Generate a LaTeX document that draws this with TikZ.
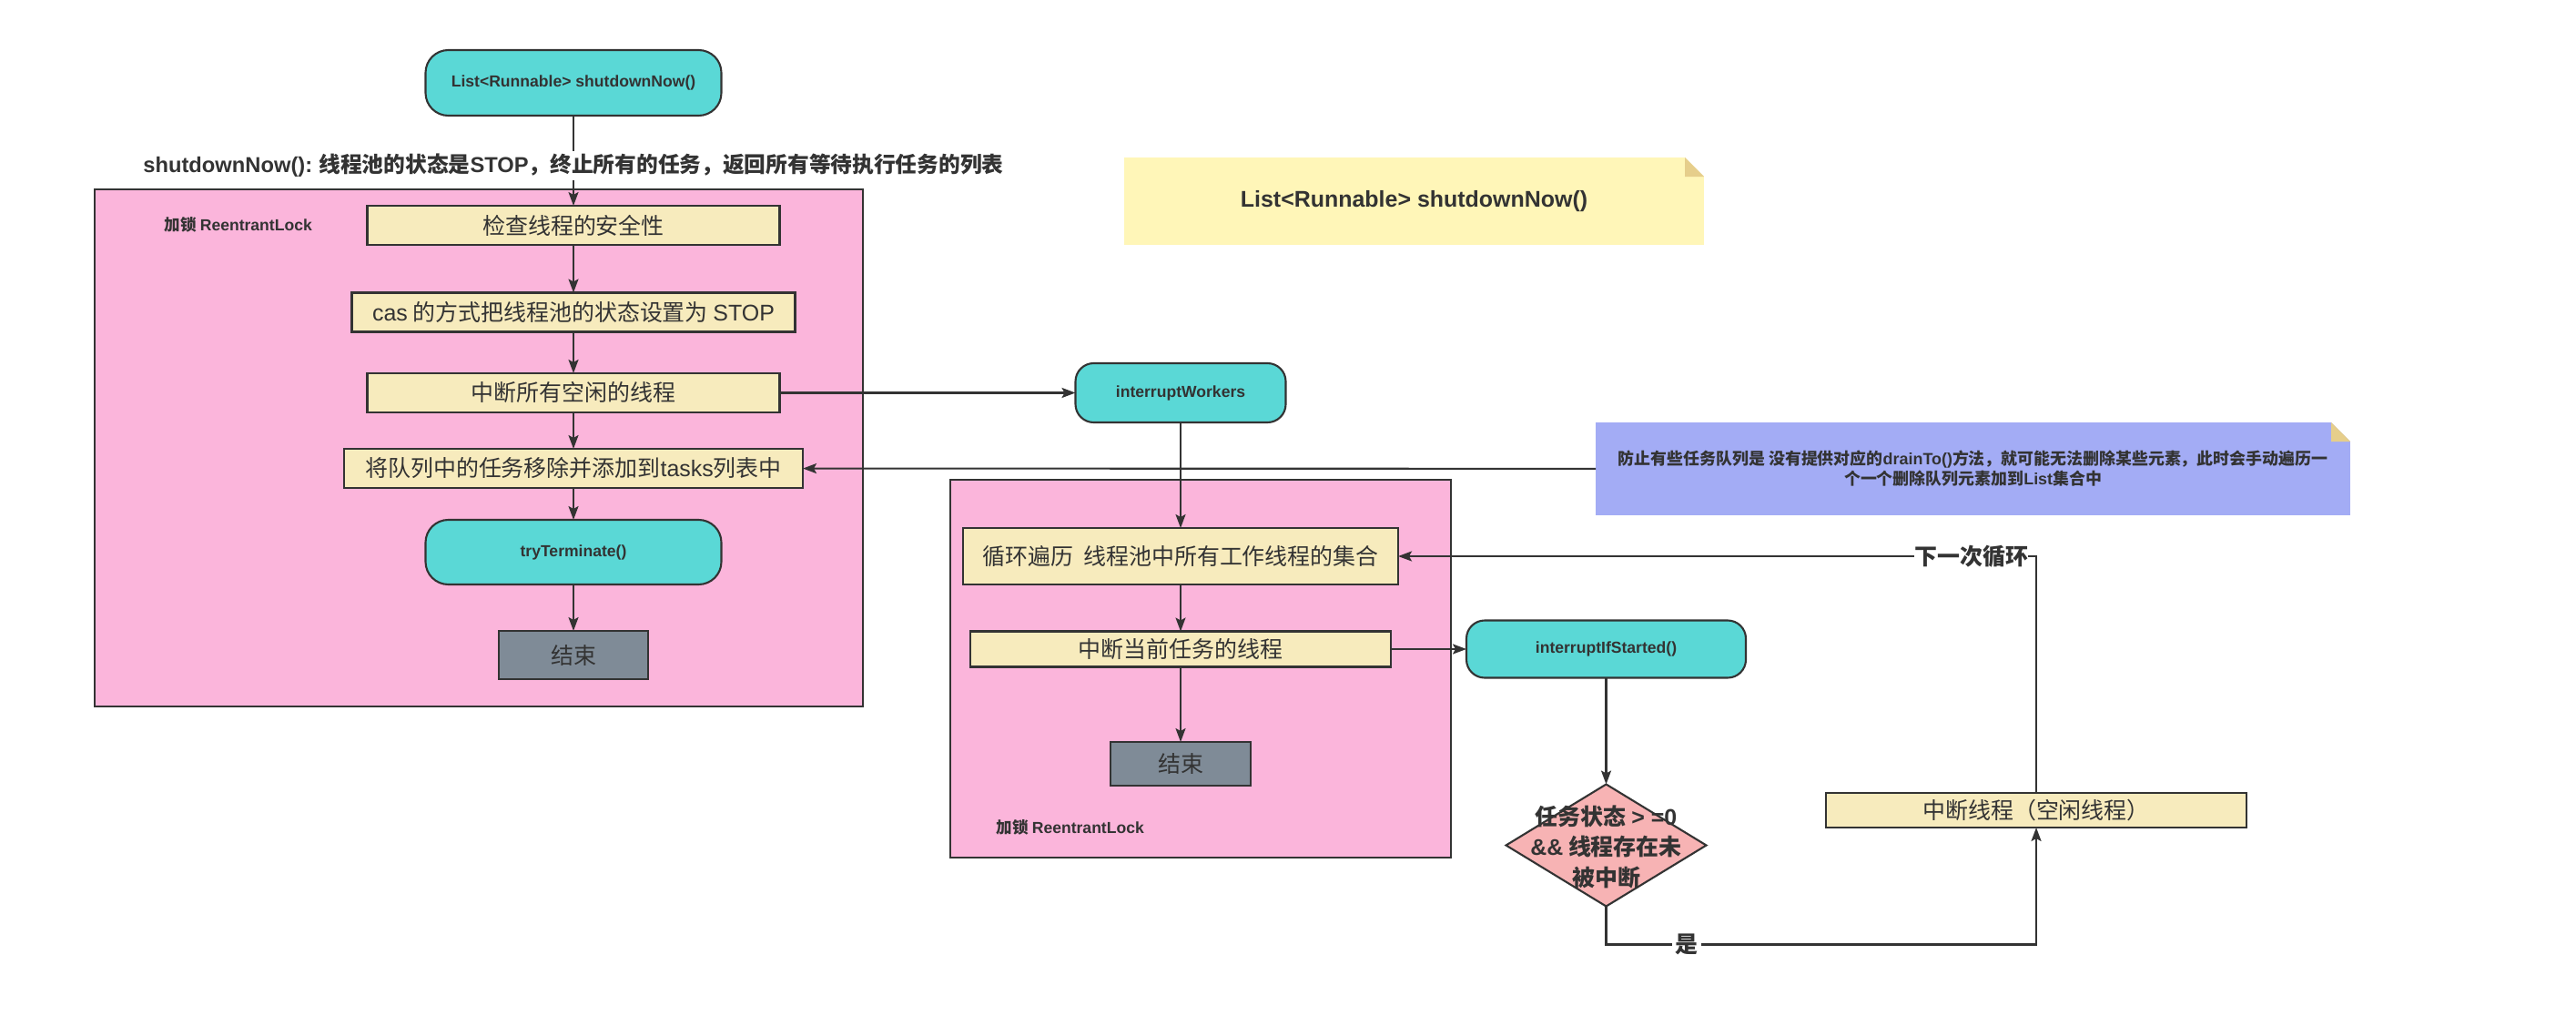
\documentclass[tikz,border=0pt]{standalone}
\usepackage{fontspec}
\setmainfont{Noto Sans CJK SC}
\newfontfamily\enfont{Liberation Sans}
\usepackage{tikz}
\usetikzlibrary{
  shapes.geometric, shapes.misc,
  arrows.meta, positioning
}
\usepackage{xcolor}
\definecolor{InkGrey}{HTML}{333333}
\definecolor{LockPink}{HTML}{FBB5DB}
\definecolor{CapTeal}{HTML}{5AD8D6}
\definecolor{StepCream}{HTML}{F7EBBD}
\definecolor{EndSlate}{HTML}{7F8B97}
\definecolor{DecRose}{HTML}{F7B3B4}
\definecolor{MemoYellow}{HTML}{FFF6B8}
\definecolor{MemoBlue}{HTML}{A3ACF5}
\definecolor{FoldTan}{HTML}{E6CE8B}
\newcommand{\bodyfont}{\fontsize{7.1}{8.5}\selectfont}
\newcommand{\smallbold}{\bfseries\fontsize{5.0}{6.2}\selectfont}
% folded top right corner of a memo
\newcommand{\foldcorner}[1]{%
  \fill[white] (#1.north east) -- ([xshift=-0.21cm]#1.north east)
    -- ([yshift=-0.21cm]#1.north east) -- cycle;
  \fill[FoldTan] ([xshift=-0.21cm]#1.north east)
    -- ([yshift=-0.21cm]#1.north east)
    -- ([xshift=-0.21cm,yshift=-0.21cm]#1.north east) -- cycle;}
\tikzset{
  % Start/End capsule
  terminal/.style={
    rectangle, draw=InkGrey, semithick,
    fill=CapTeal, rounded corners=0.25cm,
    inner sep=0pt, outer sep=0pt,
    minimum width=3.25cm, minimum height=0.72cm,
    font=\enfont\smallbold
  },
  % Process rectangle
  process/.style={
    rectangle, draw=InkGrey, semithick,
    fill=StepCream, inner sep=0pt, outer sep=0pt,
    minimum height=0.43cm, font=\bodyfont
  },
  % End box
  finish/.style={
    rectangle, draw=InkGrey, semithick,
    fill=EndSlate, inner sep=0pt, outer sep=0pt,
    minimum width=1.64cm, minimum height=0.53cm,
    font=\bodyfont
  },
  % Decision diamond
  decision/.style={
    diamond, draw=InkGrey, semithick,
    fill=DecRose, inner sep=0pt, outer sep=0pt,
    minimum width=2.2cm, minimum height=1.34cm,
    font=\bfseries\fontsize{7.1}{9.4}\selectfont
  },
  % Locked area
  lockarea/.style={
    rectangle, draw=InkGrey, semithick, fill=LockPink
  },
  lockname/.style={inner sep=0pt, font=\smallbold},
  % Sticky memo
  memo/.style={
    rectangle, inner sep=0pt, outer sep=0pt, align=center
  },
  % Arrow style
  arrow/.style={
    -{Stealth[length=1.5mm, width=1.1mm, inset=0.3mm]},
    semithick, draw=InkGrey
  },
  edgelabel/.style={
    fill=white, inner sep=1pt,
    font=\bfseries\fontsize{7.1}{8.5}\selectfont
  }
}

\begin{document}
\begin{tikzpicture}[
  every node/.style={text=InkGrey}
]
\useasboundingbox (0,0) rectangle (28.30,-11.26);

% ── locked areas ─────────────────────────────
\node[lockarea, minimum width=8.44cm, minimum height=5.68cm]
  (lock1) at (5.26,-4.92) {};
\node[lockname, anchor=west] (lock1name)
  at ([xshift=0.77cm,yshift=-0.40cm]lock1.north west)
  {加锁 {\enfont ReentrantLock}};
\node[lockarea, minimum width=5.50cm, minimum height=4.15cm]
  (lock2) at (13.19,-7.345) {};
\node[lockname, anchor=west] (lock2name)
  at ([xshift=0.51cm,yshift=0.34cm]lock2.south west)
  {加锁 {\enfont ReentrantLock}};

% ── shutdownNow() main flow ──────────────────
\node[terminal] (sdn) at (6.30,-0.91) {List<Runnable> shutdownNow()};
\node[process, minimum width=4.53cm, below=0.99cm of sdn] (chk)
  {检查线程的安全性};
\node[process, minimum width=4.87cm, below=0.525cm of chk] (cas)
  {{\enfont cas} 的方式把线程池的状态设置为 {\enfont STOP}};
\node[process, minimum width=4.53cm, below=0.455cm of cas] (idle)
  {中断所有空闲的线程};
\node[process, minimum width=5.04cm, below=0.40cm of idle] (drain)
  {将队列中的任务移除并添加到{\enfont tasks}列表中};
\node[terminal, minimum height=0.71cm, below=0.35cm of drain] (tryT)
  {tryTerminate()};
\node[finish, below=0.51cm of tryT] (end1) {结束};

\node[memo, fill=MemoYellow, minimum width=6.37cm, minimum height=0.96cm,
      font=\enfont\bfseries\bodyfont] (sigNote) at (15.535,-2.21)
  {List<Runnable> shutdownNow()};
\foldcorner{sigNote}

% ── interruptWorkers ─────────────────────────
\node[terminal, minimum width=2.31cm, minimum height=0.65cm,
      rounded corners=0.2cm, right=3.25cm of idle] (iw) {interruptWorkers};
\node[process, minimum width=4.78cm, minimum height=0.62cm,
      below=1.16cm of iw] (loop)
  {循环遍历\ \ 线程池中所有工作线程的集合};
\node[process, minimum width=4.62cm, minimum height=0.39cm,
      below=0.515cm of loop] (cur)
  {中断当前任务的线程};
\node[finish, minimum width=1.54cm, minimum height=0.48cm,
      below=0.825cm of cur] (end2) {结束};
\node[terminal, minimum width=3.07cm, minimum height=0.63cm,
      rounded corners=0.2cm, right=0.83cm of cur] (iis)
  {interruptIfStarted()};
\node[decision, below=1.17cm of iis] (chk2)
  {\makebox[0pt]{\smash{\raisebox{-1.1mm}{\begin{tabular}{@{}c@{}}
     任务状态 {\enfont > =0}\\
     {\enfont \&\&} 线程存在未\\
     被中断
   \end{tabular}}}}};
\node[process, minimum width=4.62cm, minimum height=0.38cm] (idleIntr)
  at (22.37,-8.90) {中断线程（空闲线程）};

\node[memo, fill=MemoBlue, minimum width=8.29cm, minimum height=1.02cm,
      font=\bfseries\fontsize{5.1}{6.3}\selectfont] (drainNote) at (21.675,-5.15)
  {防止有些任务队列是 没有提供对应的{\enfont drainTo()}方法，就可能无法删除某些元素，此时会手动遍历一\\
   个一个删除队列元素加到{\enfont List}集合中};
\foldcorner{drainNote}

\draw[arrow] (sdn) -- node[edgelabel, pos=0.556,
  font=\bfseries\fontsize{6.75}{8}\selectfont]
  {{\enfont shutdownNow():} 线程池的状态是{\enfont STOP}，终止所有的任务，返回所有等待执行任务的列表}
  (chk);
\draw[arrow] (chk)   -- (cas);
\draw[arrow] (cas)   -- (idle);
\draw[arrow] (idle)  -- (drain);
\draw[arrow] (drain) -- (tryT);
\draw[arrow] (tryT)  -- (end1);
\draw[arrow] (idle)  -- (iw);
\draw[arrow] (drainNote) -- (drain);
\draw[arrow] (iw)    -- (loop);
\draw[arrow] (loop)  -- (cur);
\draw[arrow] (cur)   -- (end2);
\draw[arrow] (cur)   -- (iis);
\draw[arrow] (iis)   -- (chk2);
\draw[arrow] (chk2.south) -- ++(0,-0.42)
  -| node[edgelabel, pos=0.094]{是} (idleIntr.south);
\draw[arrow] (idleIntr) |- node[edgelabel, pos=0.5, anchor=east,
  inner sep=0pt, xshift=-0.08cm]{下一次循环} (loop);

\end{tikzpicture}
\end{document}
